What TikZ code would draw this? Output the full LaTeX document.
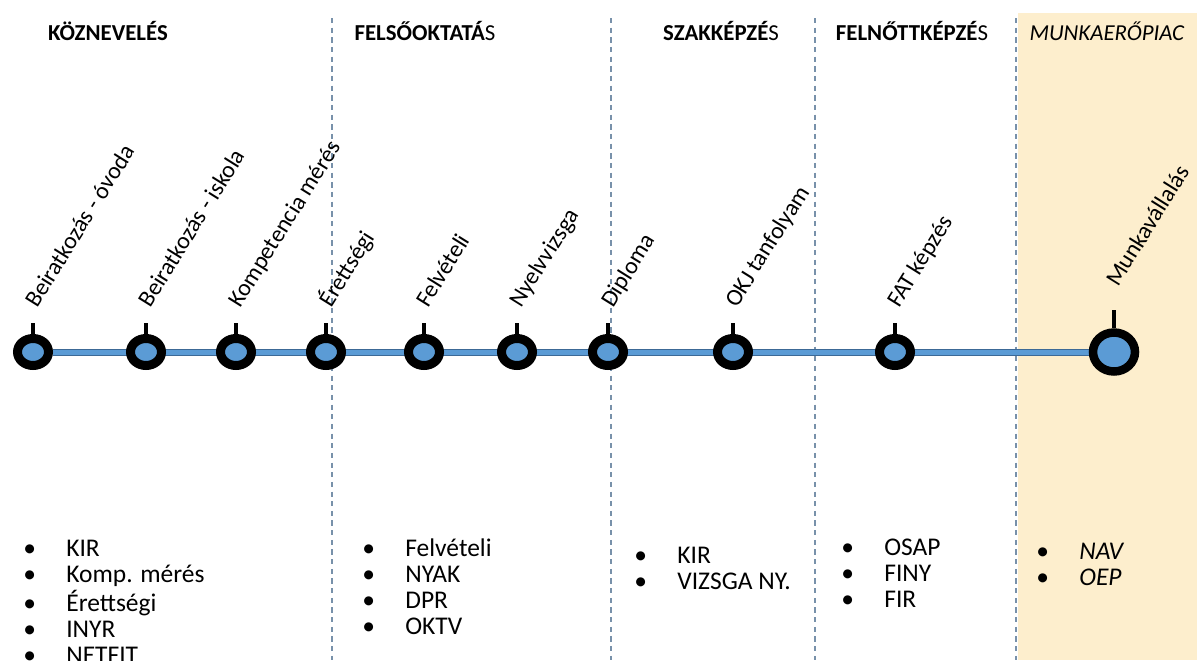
\documentclass[tikz,border=0pt]{standalone}
\usepackage{fontspec}
\setmainfont{Carlito}
\usetikzlibrary{positioning,shapes.geometric,backgrounds}
\definecolor{tlblue}{RGB}{91,155,213}
\definecolor{edgeblue}{RGB}{60,105,150}
\definecolor{divgray}{RGB}{120,145,170}
\definecolor{marketbg}{RGB}{253,238,205}
\newcommand{\bul}{\makebox[0.86cm][l]{•}}
\tikzset{
  phase/.style={font=\fontsize{13}{15}\selectfont, anchor=base, inner sep=0pt},
  event/.style={font=\fontsize{13.5}{15}\selectfont, rotate=58, anchor=base west, inner sep=0pt},
  stop/.style={ellipse, draw=black, fill=tlblue, line width=0.18cm, minimum width=0.62cm, minimum height=0.54cm, inner sep=0pt},
  bigstop/.style={stop, line width=0.17cm, minimum width=0.84cm, minimum height=0.78cm},
  tick/.style={draw=black, line width=0.09cm},
  divider/.style={draw=divgray, dash pattern=on 3pt off 2.5pt, line width=0.6pt},
  tline/.style={draw=edgeblue, double=tlblue, double distance=0.1cm, line width=0.02cm},
  systems/.style={font=\fontsize{14.5}{14.8}\selectfont, anchor=north west, inner sep=0pt}
}

\begin{document}
\begin{tikzpicture}[x=0.02cm, y=-0.02cm]
  \useasboundingbox (0,0) rectangle (1197,660);

  \node[phase] (kozneveles) at (108,40) {\textbf{KÖZNEVELÉS}};
  \node[phase] (felsooktatas) at (425,40) {\textbf{FELSŐOKTATÁ}S};
  \node[phase] (szakkepzes) at (721,40) {\textbf{SZAKKÉPZÉ}S};
  \node[phase] (felnottkepzes) at (912,40) {\textbf{FELNŐTTKÉPZÉ}S};
  \node[phase] (munkaeropiac) at (1107,40) {\textit{MUNKAERŐPIAC}};

  \node[stop] (s1) at (33,352) {};
  \node[stop] (s2) at (146,352) {};
  \node[stop] (s3) at (236,352) {};
  \node[stop] (s4) at (326,352) {};
  \node[stop] (s5) at (424,352) {};
  \node[stop] (s6) at (517,352) {};
  \node[stop] (s7) at (608,352) {};
  \node[stop] (s8) at (733,352) {};
  \node[stop] (s9) at (895,352) {};
  \node[bigstop] (s10) at (1114,352) {};

  \draw[tick] (s1.north) -- ++(0,-11);
  \draw[tick] (s2.north) -- ++(0,-11);
  \draw[tick] (s3.north) -- ++(0,-11);
  \draw[tick] (s4.north) -- ++(0,-11);
  \draw[tick] (s5.north) -- ++(0,-11);
  \draw[tick] (s6.north) -- ++(0,-11);
  \draw[tick] (s7.north) -- ++(0,-11);
  \draw[tick] (s8.north) -- ++(0,-11);
  \draw[tick] (s9.north) -- ++(0,-11);
  \draw[tick] (s10.north) -- ++(0,-18);

  \node[event] (ovoda) at (37,309) {Beiratkozás - óvoda};
  \node[event] (iskola) at (150,309) {Beiratkozás - iskola};
  \node[event] (kompetencia) at (240,309) {Kompetencia mérés};
  \node[event] (erettsegi) at (331,309) {Érettségi};
  \node[event] (felveteli) at (428,309) {Felvételi};
  \node[event] (nyelvvizsga) at (521,309) {Nyelvvizsga};
  \node[event] (diploma) at (613,309) {Diploma};
  \node[event] (okj) at (737,309) {OKJ tanfolyam};
  \node[event] (fat) at (899,309) {FAT képzés};
  \node[event] (munkavallalas) at (1118,288) {Munkavállalás};

  \node[systems] (kozlist) at (23,538) {\begin{tabular}{@{}l@{}}
    \bul KIR\\ \bul Komp. mérés\\ \bul Érettségi\\ \bul INYR\\ \bul NETFIT
  \end{tabular}};
  \node[systems] (felslist) at (362,538) {\begin{tabular}{@{}l@{}}
    \bul Felvételi\\ \bul NYAK\\ \bul DPR\\ \bul OKTV
  \end{tabular}};
  \node[systems] (szaklist) at (634,545) {\begin{tabular}{@{}l@{}}
    \bul KIR\\ \bul VIZSGA NY.
  \end{tabular}};
  \node[systems] (felnlist) at (841,537) {\begin{tabular}{@{}l@{}}
    \bul OSAP\\ \bul FINY\\ \bul FIR
  \end{tabular}};
  \node[systems] (munklist) at (1036,541) {\begin{tabular}{@{}l@{}}
    \bul \textit{NAV}\\ \bul \textit{OEP}
  \end{tabular}};

  \begin{scope}[on background layer]
    \fill[marketbg] (1018,13) rectangle (1197,660);
    \draw[divider] (332,18) -- (332,660);
    \draw[divider] (611,18) -- (611,660);
    \draw[divider] (815,18) -- (815,660);
    \draw[divider] (1016,18) -- (1016,660);
    \draw[tline] (s1) -- (s10);
  \end{scope}
\end{tikzpicture}
\end{document}
